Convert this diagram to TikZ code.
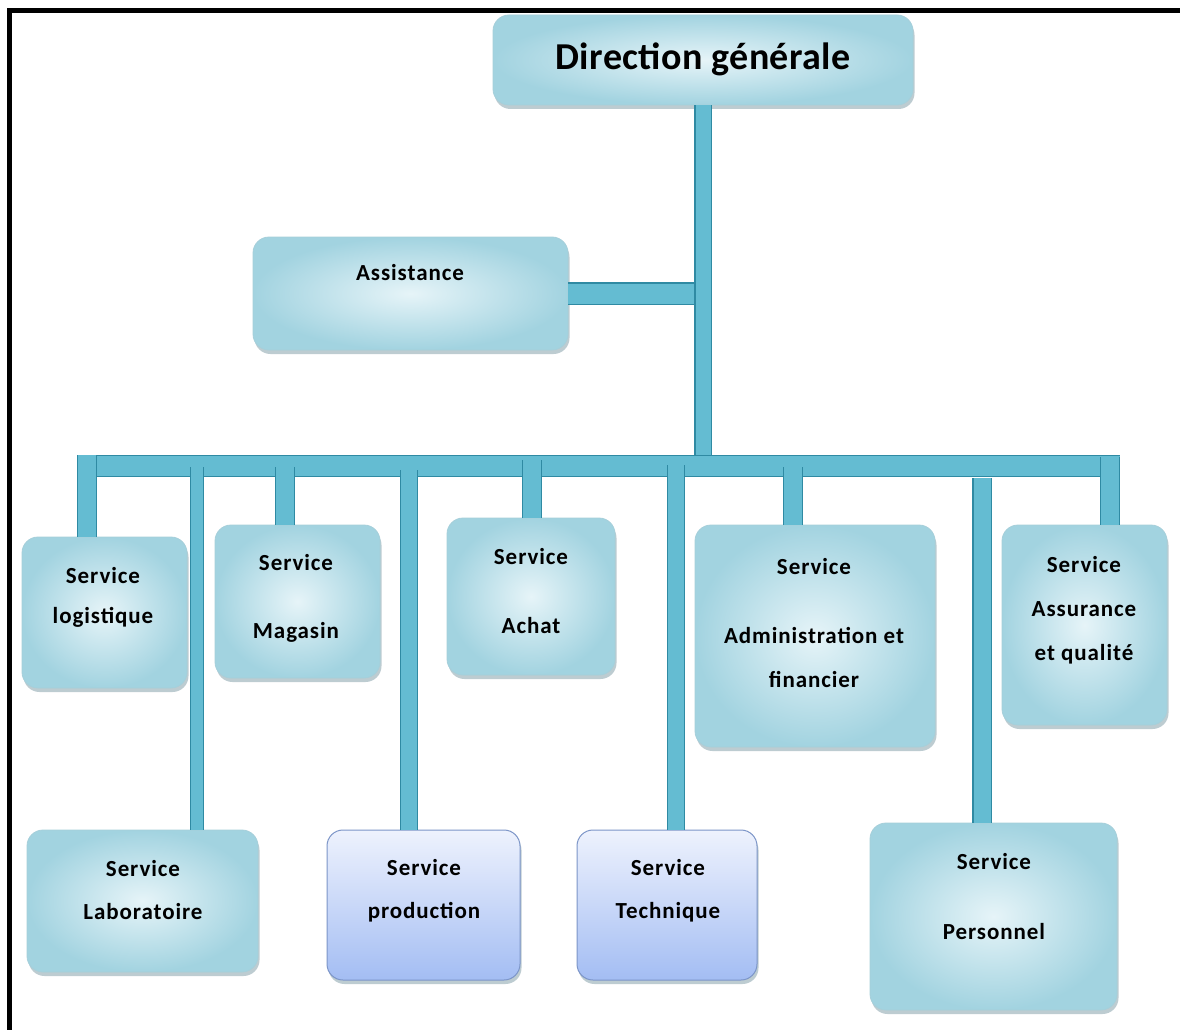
\documentclass[tikz,border=0pt]{standalone}
\usepackage{fontspec}
\setmainfont{Carlito}
\usetikzlibrary{shadows,calc}
\definecolor{barfill}{HTML}{64BCD2}
\definecolor{barline}{HTML}{2F8AA3}
\definecolor{boxin}{HTML}{E6F4F8}
\definecolor{boxout}{HTML}{A2D3E0}
\definecolor{boxline}{HTML}{A6CFDA}
\definecolor{bluetop}{HTML}{EEF2FD}
\definecolor{bluebot}{HTML}{A3BDF3}
\definecolor{blueline}{HTML}{7C95C8}
\definecolor{shadowc}{HTML}{6E8E99}
\tikzset{
  box/.style={draw=boxline, line width=0.8pt, rounded corners=16pt, inner sep=0pt,
    inner color=boxin, outer color=boxout,
    drop shadow={shadow xshift=1.5pt, shadow yshift=-4pt, opacity=0.45, fill=shadowc}},
  bluebox/.style={draw=blueline, line width=1pt, rounded corners=16pt, inner sep=0pt,
    top color=bluetop, bottom color=bluebot,
    drop shadow={shadow xshift=1.5pt, shadow yshift=-4pt, opacity=0.45, fill=shadowc}},
  bar/.style={draw=barline, line width=1.2pt, double=barfill, double distance=#1},
  lbl/.style={align=center, inner sep=0pt,
    font=\bfseries\fontsize{23}{#1}\selectfont\addfontfeatures{LetterSpace=4}},
  title/.style={inner sep=0pt, font=\bfseries\fontsize{38}{40}\selectfont\addfontfeatures{LetterSpace=1}}
}
\begin{document}
\begin{tikzpicture}[x=1pt,y=-1pt]
\useasboundingbox[fill=white] (0,0) rectangle (1180,1030);
% frame
\draw[line width=5pt] (9.5,1030) -- (9.5,10.5) -- (1180,10.5);

% boxes
\node[box, minimum width=420pt, minimum height=90pt] (dg) at (703,60) {};
\node[box, minimum width=315pt, minimum height=113pt] (asst) at (410.5,293.5) {};
\node[box, minimum width=165pt, minimum height=151pt] (log) at (104.5,612.5) {};
\node[box, minimum width=165pt, minimum height=153pt] (mag) at (297.5,601.5) {};
\node[box, minimum width=168pt, minimum height=157pt] (ach) at (531,596.5) {};
\node[box, minimum width=240pt, minimum height=222pt] (adm) at (815,636) {};
\node[box, minimum width=165pt, minimum height=200pt] (ass) at (1084.5,625) {};
\node[box, minimum width=231pt, minimum height=142pt] (lab) at (142.5,901) {};
\node[bluebox, minimum width=193pt, minimum height=150pt] (prod) at (423.5,905) {};
\node[bluebox, minimum width=180pt, minimum height=150pt] (tech) at (667,905) {};
\node[box, minimum width=247pt, minimum height=187pt] (pers) at (993.5,916.5) {};

% connectors
\coordinate (bl) at (78,466);
\coordinate (br) at (1120,466);
\draw[bar=20pt] (asst.east) -- (asst.east -| dg.south);
\draw[bar=15pt] (dg.south) -- (dg.south |- bl);
\draw[bar=20pt] (bl) -- (br);

\coordinate (s-log) at (87,455);
\coordinate (s-mag) at (285,467);
\coordinate (s-ach) at (532,460);
\coordinate (s-adm) at (793,467);
\coordinate (s-ass) at (1110,457);
\coordinate (s-lab) at (197,467);
\coordinate (s-prod) at (409,470);
\coordinate (s-tech) at (676,465);
\coordinate (s-pers) at (982,478);
\draw[bar=18pt] (s-log) -- (s-log |- log.north);
\draw[bar=18pt] (s-mag) -- (s-mag |- mag.north);
\draw[bar=18pt] (s-ach) -- (s-ach |- ach.north);
\draw[bar=18pt] (s-adm) -- (s-adm |- adm.north);
\draw[bar=18pt] (s-ass) -- (s-ass |- ass.north);
\draw[bar=12pt] (s-lab) -- (s-lab |- lab.north);
\draw[bar=16pt] (s-prod) -- (s-prod |- prod.north);
\draw[bar=16pt] (s-tech) -- (s-tech |- tech.north);
\draw[bar=17pt] (s-pers) -- (s-pers |- pers.north);

% texts
\node[title] (dg-t) at (703,59) {Direction générale};
\node[lbl=28] (asst-t) at (410,273) {Assistance};
\node[lbl=40] (log-t) at (103,597) {Service\\logistique};
\node[lbl=68] (mag-t) at (296,598) {Service\\Magasin};
\node[lbl=69] (ach-t) at (531,591.5) {Service\\Achat};
\node[lbl=44] (adm-t) at (814,623.5) {Service\\[25pt]Administration et\\financier};
\node[lbl=44] (ass-t) at (1084,610) {Service\\Assurance\\et qualité};
\node[lbl=43] (lab-t) at (143,890.5) {Service\\Laboratoire};
\node[lbl=43] (prod-t) at (424,890.5) {Service\\production};
\node[lbl=43] (tech-t) at (668,890.5) {Service\\Technique};
\node[lbl=70] (pers-t) at (994,897) {Service\\Personnel};
\end{tikzpicture}
\end{document}
